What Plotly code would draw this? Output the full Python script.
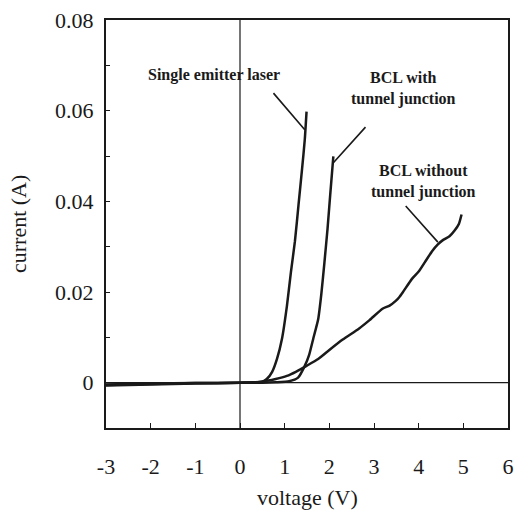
import plotly.graph_objects as go

# Single emitter laser
v_se = [-3, -2, -1, 0, 0.3, 0.5, 0.6, 0.72, 0.83, 0.94, 1.05, 1.14, 1.23, 1.31, 1.39, 1.45, 1.49]
i_se = [-0.0005, -0.0003, -0.0001, 0, 0.0001, 0.0002, 0.0008, 0.0024, 0.0053, 0.0097, 0.0169, 0.0244, 0.0312, 0.0392, 0.0472, 0.0536, 0.0598]

# BCL with tunnel junction
v_tj = [-3, -2, -1, 0, 0.5, 0.8, 1.1, 1.3, 1.45, 1.55, 1.64, 1.75, 1.82, 1.89, 1.96, 2.02, 2.09]
i_tj = [-0.0004, -0.0002, -0.0001, 0, 0, 0.0001, 0.0003, 0.0011, 0.0037, 0.0062, 0.0097, 0.0140, 0.0195, 0.0265, 0.0340, 0.0415, 0.0499]

# BCL without tunnel junction
v_nt = [-3, -2, -1, 0, 0.4, 0.6, 0.8, 1.05, 1.25, 1.49, 1.75, 2.0, 2.3, 2.66, 2.9, 3.19, 3.35, 3.48, 3.56, 3.65, 3.85, 4.0, 4.14, 4.3, 4.43, 4.55, 4.69, 4.8, 4.9, 4.96]
i_nt = [-0.0006, -0.0004, -0.0002, 0, 0.0001, 0.0004, 0.0008, 0.0015, 0.0024, 0.0037, 0.0052, 0.0072, 0.0095, 0.0119, 0.0138, 0.0163, 0.0170, 0.0180, 0.0188, 0.0200, 0.0229, 0.0245, 0.0266, 0.0290, 0.0305, 0.0315, 0.0323, 0.0335, 0.0350, 0.0371]

x_ticks = [-3, -2, -1, 0, 1, 2, 3, 4, 5, 6]
y_ticks = [0, 0.02, 0.04, 0.06, 0.08]
y_tick_text = ["0", "0.02", "0.04", "0.06", "0.08"]

FONT = "Liberation Serif, Times New Roman, serif"
INK = "#1a1a1a"

fig = go.Figure()
for xv, yv in [(v_se, i_se), (v_tj, i_tj), (v_nt, i_nt)]:
    fig.add_trace(go.Scatter(x=xv, y=yv, mode="lines",
                             line=dict(color=INK, width=2.5, shape="spline", smoothing=0.5),
                             showlegend=False))

# reference lines at V=0 and I=0
fig.add_shape(type="line", xref="x", yref="paper", x0=0, x1=0, y0=0, y1=1,
              line=dict(color=INK, width=1.2))
fig.add_shape(type="line", xref="paper", yref="y", x0=0, x1=1, y0=0, y1=0,
              line=dict(color=INK, width=1.2))

ann_font = dict(family=FONT, size=16, color=INK)
labels = [
    ("<b>Single emitter laser</b>", -0.59, 0.0679, 0.72, 0.0642, 1.45, 0.0558),
    ("<b>BCL with<br>tunnel junction</b>", 3.65, 0.0649, 2.84, 0.0567, 2.08, 0.0484),
    ("<b>BCL without<br>tunnel junction</b>", 4.1, 0.0444, 3.68, 0.0393, 4.43, 0.031),
]
for text, tx, ty, x0, y0, x1, y1 in labels:
    fig.add_annotation(x=tx, y=ty, text=text, showarrow=False, font=ann_font,
                       xanchor="center", yanchor="middle")
    fig.add_annotation(x=x1, y=y1, ax=x0, ay=y0, axref="x", ayref="y",
                       xref="x", yref="y", text="", showarrow=True,
                       arrowhead=0, arrowwidth=1.6, arrowcolor=INK)

fig.add_annotation(text="current (A)", xref="paper", yref="paper", x=0, y=0.5,
                   xshift=-88, textangle=-90, showarrow=False,
                   xanchor="center", yanchor="middle",
                   font=dict(family=FONT, size=22, color=INK))
fig.add_annotation(text="voltage (V)", xref="paper", yref="paper", x=0.5, y=0,
                   yshift=-69, showarrow=False, xanchor="center", yanchor="middle",
                   font=dict(family=FONT, size=22, color=INK))

fig.update_xaxes(range=[-3, 6], tickvals=x_ticks, ticktext=[str(t) for t in x_ticks],
                 ticks="inside", ticklen=5, tickwidth=1, tickcolor=INK,
                 showline=True, mirror=True, linecolor=INK, linewidth=2,
                 showgrid=False, zeroline=False, ticklabelstandoff=18,
                 tickfont=dict(family=FONT, size=22, color=INK))
fig.update_yaxes(range=[-0.01, 0.08], tickvals=y_ticks, ticktext=y_tick_text,
                 ticks="inside", ticklen=4, tickwidth=1, tickcolor=INK,
                 minor=dict(dtick=0.01, tick0=0, ticks="inside", ticklen=4, tickcolor=INK),
                 showline=True, mirror=True, linecolor=INK, linewidth=2,
                 showgrid=False, zeroline=False, ticklabelstandoff=6,
                 tickfont=dict(family=FONT, size=22, color=INK))

fig.update_layout(width=522, height=523, margin=dict(l=106, r=8, t=20, b=95),
                  plot_bgcolor="white", paper_bgcolor="white")
fig.write_html("out.html")
